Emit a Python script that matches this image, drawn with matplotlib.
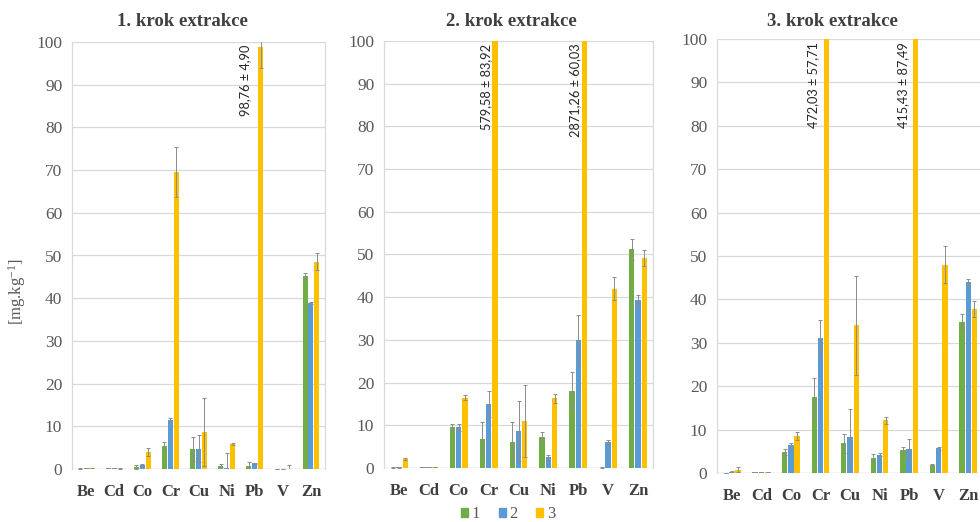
import matplotlib
matplotlib.use("Agg")
import matplotlib.pyplot as plt
from matplotlib import font_manager as fm
from matplotlib.patches import Patch
import numpy as np

# ---------------- data ----------------
elements = ["Be", "Cd", "Co", "Cr", "Cu", "Ni", "Pb", "V", "Zn"]
series_names = ["1", "2", "3"]
panel_titles = ["1. krok extrakce", "2. krok extrakce", "3. krok extrakce"]

# step 1
s1_v1 = [0.1, 0.2, 0.5, 5.5, 4.7, 0.8, 0.7, 0.0, 45.2]
s1_e1 = [0.05, 0.05, 0.5, 0.9, 2.8, 0.3, 0.9, 0.0, 0.8]
s1_v2 = [0.2, 0.2, 0.9, 11.5, 4.8, 0.2, 1.3, 0.0, 38.8]
s1_e2 = [0.05, 0.05, 0.2, 0.5, 3.2, 3.5, 0.2, 0.0, 0.2]
s1_v3 = [0.2, 0.1, 4.0, 69.5, 8.6, 5.9, 98.76, 0.1, 48.5]
s1_e3 = [0.05, 0.05, 0.9, 5.8, 8.0, 0.3, 4.90, 0.9, 2.0]

# step 2
s2_v1 = [0.1, 0.2, 9.7, 6.7, 6.0, 7.2, 18.0, 0.1, 51.2]
s2_e1 = [0.05, 0.05, 0.7, 4.0, 4.7, 1.2, 4.4, 0.05, 2.4]
s2_v2 = [0.2, 0.2, 9.5, 15.0, 8.7, 2.5, 30.0, 6.0, 39.3]
s2_e2 = [0.1, 0.05, 0.8, 3.0, 7.0, 0.6, 5.8, 0.6, 1.2]
s2_v3 = [2.1, 0.2, 16.5, 579.58, 11.0, 16.3, 2871.26, 42.0, 49.1]
s2_e3 = [0.3, 0.05, 0.6, 83.92, 8.4, 1.0, 60.03, 2.7, 1.9]

# step 3
s3_v1 = [0.05, 0.2, 4.8, 17.5, 6.8, 3.5, 5.4, 1.9, 34.9]
s3_e1 = [0.05, 0.05, 0.7, 4.5, 2.3, 0.8, 0.6, 0.2, 1.8]
s3_v2 = [0.3, 0.2, 6.4, 31.1, 8.2, 4.2, 5.6, 5.7, 44.0]
s3_e2 = [0.1, 0.05, 0.6, 4.2, 6.6, 0.3, 2.3, 0.3, 0.8]
s3_v3 = [0.8, 0.2, 8.5, 472.03, 34.0, 12.1, 415.43, 48.0, 37.8]
s3_e3 = [0.5, 0.05, 0.85, 57.71, 11.5, 0.8, 87.49, 4.2, 1.8]

panels = [
    ([s1_v1, s1_v2, s1_v3], [s1_e1, s1_e2, s1_e3]),
    ([s2_v1, s2_v2, s2_v3], [s2_e1, s2_e2, s2_e3]),
    ([s3_v1, s3_v2, s3_v3], [s3_e1, s3_e2, s3_e3]),
]

yticks = list(range(0, 101, 10))
colors = ["#70AD47", "#5B9BD5", "#FFC000"]

# ---------------- style ----------------
names = {f.name for f in fm.fontManager.ttflist}
serif = "Liberation Serif" if "Liberation Serif" in names else "DejaVu Serif"
ann_family = "Liberation Sans Narrow" if "Liberation Sans Narrow" in names else "Lato"
plt.rcParams["font.family"] = [serif, "DejaVu Serif"]
plt.rcParams["mathtext.fontset"] = "custom"
plt.rcParams["mathtext.rm"] = serif
plt.rcParams["mathtext.it"] = serif + ":italic"

text_grey = "#595959"
dark = "#3F3F3F"
grid_c = "#D9D9D9"

W, H = 980, 522
fig = plt.figure(figsize=(W / 100, H / 100), dpi=100)

# axes rectangles in pixels: left, top(y of 100), right, bottom(y of 0)
rects = [(72, 42, 325, 469), (384, 41, 653, 468), (717, 39, 983, 473)]
title_x = [182, 511, 832]
ann_offsets = [[-15], [-9, -9], [-13, -12]]

bw = 0.18
off = 0.21
x = np.arange(len(elements))

for p, ((vals, errs), (l, t, r, b)) in enumerate(zip(panels, rects)):
    ax = fig.add_axes([l / W, 1 - b / H, (r - l) / W, (b - t) / H])
    ax.set_xlim(-0.5, len(elements) - 0.5)
    ax.set_ylim(0, 100)
    ax.set_yticks(yticks)
    ax.yaxis.grid(True, color=grid_c, lw=0.9)
    ax.set_axisbelow(True)
    for s in ["top", "bottom"]:
        ax.spines[s].set_visible(False)
    ax.spines["left"].set_color(grid_c)
    ax.spines["right"].set_color(grid_c)
    ax.spines["left"].set_linewidth(0.9)
    ax.spines["right"].set_linewidth(0.9)
    ax.axhline(0, color=grid_c, lw=1.0, zorder=1)
    ax.tick_params(axis="both", length=0)
    ax.tick_params(axis="y", labelsize=12.5, labelcolor=text_grey, pad=7)
    ax.tick_params(axis="x", labelsize=12, labelcolor=dark, pad=11)
    ax.set_xticks(x)
    ax.set_xticklabels(elements, fontweight="bold")
    fig.text(title_x[p] / W, 1 - 22 / H, panel_titles[p], fontsize=13.5,
             fontweight="bold", color=dark, ha="center", va="center")

    k = 0
    for si in range(3):
        xs = x + (si - 1) * off
        ax.bar(xs, vals[si], width=bw, color=colors[si], zorder=2)
        ax.errorbar(xs, vals[si], yerr=errs[si], fmt="none", ecolor="#8C8C8C",
                    elinewidth=0.7, capsize=1.6, capthick=0.7, zorder=3)
        if si == 2:
            for i, (v, e) in enumerate(zip(vals[si], errs[si])):
                if v > 90:
                    lab = f"{v:.2f} ± {e:.2f}".replace(".", ",")
                    ax.annotate(lab, xy=(xs[i], 100), xycoords="data",
                                xytext=(ann_offsets[p][k] * 0.72, -2),
                                textcoords="offset points", rotation=90,
                                ha="center", va="top", fontsize=9.2,
                                family=[ann_family, "DejaVu Sans"], color="#262626")
                    k += 1

fig.text(17 / W, 1 - 292 / H, "[mg.kg$^{-1}$]", rotation=90, fontsize=12,
         color=text_grey, ha="center", va="center")

handles = [Patch(color=c) for c in colors]
fig.legend(handles, series_names, loc="center", bbox_to_anchor=(508 / W, 1 - 514 / H),
           ncol=3, frameon=False, handlelength=0.45, handleheight=0.45,
           handletextpad=0.2, columnspacing=1.1, fontsize=12, labelcolor=text_grey,
           borderpad=0.1)

fig.savefig("out.png", dpi=100)
